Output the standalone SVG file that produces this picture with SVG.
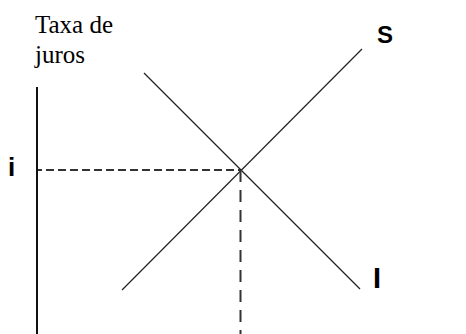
<svg xmlns="http://www.w3.org/2000/svg" width="466" height="334" viewBox="0 0 466 334">
<style>
.serif{font-family:"Liberation Serif","Times New Roman",serif;font-size:25px;fill:#000}
.lbl{font-family:"Liberation Sans",Arial,sans-serif;font-weight:bold;fill:#000}
.curve{stroke:#222;stroke-width:1.2;fill:none}
.dash{stroke:#333;stroke-width:2;fill:none}
.axis{stroke:#111;stroke-width:2;fill:none}
</style>
<rect width="466" height="334" fill="#fff"/>
<g id="axis-label">
<text class="serif" x="35" y="33">Taxa de</text>
<text class="serif" x="35" y="63">juros</text>
</g>
<g id="axis"><line class="axis" x1="37" y1="87" x2="37" y2="334"/></g>
<g id="connectors">
<line class="curve" x1="122" y1="290" x2="362" y2="49"/>
<line class="curve" x1="144" y1="73" x2="360" y2="289"/>
<line class="dash" x1="38" y1="170" x2="240" y2="170" stroke-dasharray="8 4" stroke-dashoffset="4"/>
<line class="dash" x1="240.5" y1="170" x2="240.5" y2="334" stroke-dasharray="12 8"/>
</g>
<g id="label-S"><text class="lbl" x="377" y="43" font-size="24">S</text></g>
<g id="label-I"><text class="lbl" x="373" y="288" font-size="29">I</text></g>
<g id="label-i"><text class="lbl" x="8" y="176" font-size="26">i</text></g>
</svg>
